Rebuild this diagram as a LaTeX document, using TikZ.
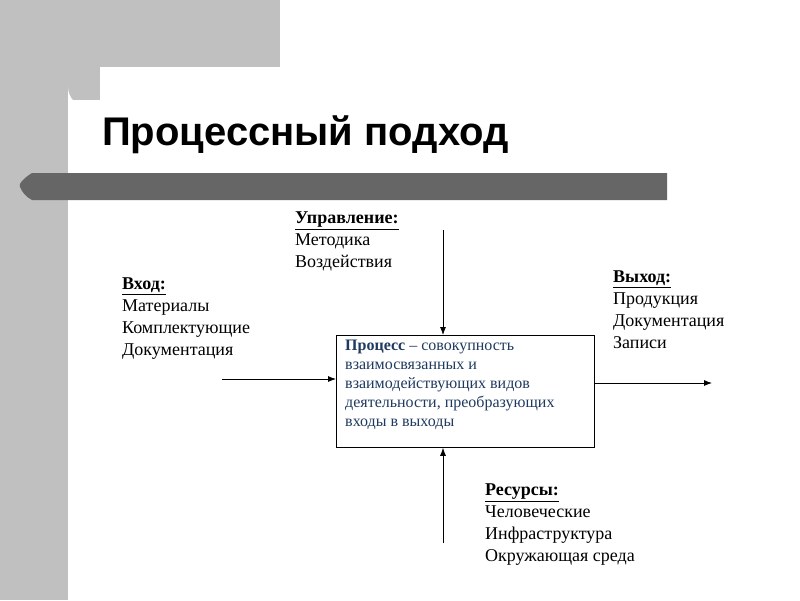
\documentclass[tikz,border=0pt]{standalone}
\usepackage{fontspec}
\setmainfont{Liberation Serif}
\newfontfamily\arialf{Liberation Sans}
\usetikzlibrary{arrows.meta}
\definecolor{lgray}{HTML}{C0C0C0}
\definecolor{dgray}{HTML}{666666}
\definecolor{boxtxt}{HTML}{1F3A5F}
\tikzset{
  lbl/.style={anchor=north west,align=left,inner sep=0pt,font=\fontsize{18}{22}\selectfont},
  arr/.style={-{Latex[length=8pt,width=6pt]},line width=0.8pt}
}
\begin{document}
\begin{tikzpicture}[x=1pt,y=-1pt]
\useasboundingbox (0,0) rectangle (800,600);
\fill[white] (0,0) rectangle (800,600);
\fill[lgray] (0,0) rectangle (280,67);
\fill[lgray] (0,0) rectangle (68,600);
\fill[lgray] (0,0) rectangle (100,100);
\fill[white] (68,600) -- (68,87) arc[start angle=180,end angle=90,radius=20] -- (280,67) -- (280,600) -- cycle;
\fill[dgray] (667,173) -- (32,173) .. controls (24,178) and (18,184) .. (20,187) .. controls (22,192) and (26,197) .. (32,200) -- (667,200) -- cycle;
\node[anchor=west,inner sep=0pt,font=\arialf\bfseries\fontsize{40}{46}\selectfont] (title) at (102,135) {Процессный подход};
\node[draw,line width=0.8pt,minimum width=258pt,minimum height=112pt,anchor=north west,inner sep=0pt] (box) at (336,335) {};
\node[anchor=north west,align=left,inner sep=0pt,text=boxtxt,font=\fontsize{16}{19}\selectfont] (btxt) at (345,340)
 {\textbf{Процесс} -- совокупность\\взаимосвязанных и\\взаимодействующих видов\\деятельности, преобразующих\\входы в выходы};
\node[lbl] (upr) at (295,212) {\textbf{\underline{Управление:}}\\Методика\\Воздействия};
\node[lbl] (vh) at (122,278) {\textbf{\underline{Вход:}}\\Материалы\\Комплектующие\\Документация};
\node[lbl] (vyh) at (613,271) {\textbf{\underline{Выход:}}\\Продукция\\Документация\\Записи};
\node[lbl] (res) at (485,484) {\textbf{\underline{Ресурсы:}}\\Человеческие\\Инфраструктура\\Окружающая среда};
\coordinate (ta) at (443,230);
\coordinate (ba) at (443,543);
\coordinate (la) at (222,379);
\coordinate (ra) at (712,383);
\draw[arr] (ta) -- (ta |- box.north);
\draw[arr] (ba) -- (ba |- box.south);
\draw[arr] (la) -- (la -| box.west);
\draw[arr] (ra -| box.east) -- (ra);
\end{tikzpicture}
\end{document}
